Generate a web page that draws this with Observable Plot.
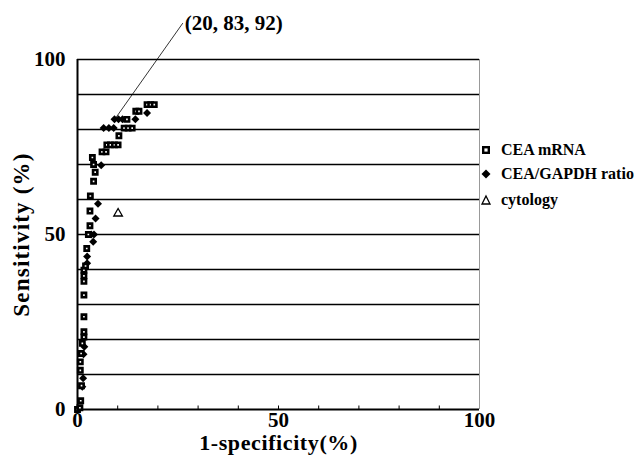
<!DOCTYPE html>
<html><head><meta charset="utf-8">
<script src="https://cdn.jsdelivr.net/npm/d3@7"></script>
<script src="https://cdn.jsdelivr.net/npm/@observablehq/plot@0.6"></script>
<style>
body{margin:0;background:#fff;}
#wrap{position:relative;width:637px;height:455px;}
.lg{position:absolute;left:480px;font:bold 16px "Liberation Serif",serif;white-space:nowrap;display:flex;align-items:center;height:20px;}
.lg svg{margin-right:9px;}
#wrap svg text{font-weight:bold;}
svg g[aria-label="x-axis label"]{font-size:22px;letter-spacing:0.6px;fill:#000;}
svg g[aria-label="y-axis label"]{font-size:23px;letter-spacing:1.2px;fill:#000;}
</style></head><body><div id="wrap"></div>
<script>
// CEA mRNA (squares): 1-specificity (%) and sensitivity (%)
const ceaMrnaX = [0,0.6,0.8,1.0,0.7,0.7,0.9,1.2,1.6,1.6,1.6,1.6,1.6,1.6,1.6,2.0,2.3,2.7,3.1,3.1,3.2,4.0,4.4,4.0,3.7,6.1,7.1,7.3,8.2,9.2,10.1,10.3,11.6,12.6,13.6,12.3,14.5,15.3,17.3,18.2,19.1];
const ceaMrnaY = [0,0.5,2.5,6.8,11.2,13.6,16,18.9,20.7,22.2,26.5,32.7,36.6,38.2,39.8,41,46,50,52.5,56.7,61,65.2,67.8,70,72,73.6,73.6,75.6,75.6,75.6,75.6,78.2,80.4,80.4,80.4,82.9,85.2,85.2,87.1,87.1,87.1];
// CEA/GAPDH ratio (diamonds)
const ratioX = [0.3,1.2,1.4,1.5,1.7,2.4,2.4,3.9,3.4,4.1,4.5,5.1,5.9,6.5,7.8,9.0,9.2,10.2,11.2,14.4,17.3];
const ratioY = [0.3,6.5,8.9,15.8,17.9,41.8,43.7,47.9,50,50,54.6,58.8,69.8,80.4,80.4,80.4,82.9,82.9,82.9,82.9,84.7];
// cytology (triangle)
const cytologyX = [10.1];
const cytologyY = [56];
// annotation
const annotationText = ["(20, 83, 92)"];
const annotationFrom = [26.2, 110.4];
const annotationTo = [9.5, 83.3];
// ticks
const yTicks = [0, 50, 100];
const xTicks = [0, 50, 100];
const gridY = [10,20,30,40,50,60,70,80,90,100];
const minorX = [10,20,30,40,50,60,70,80,90];

const mrna = ceaMrnaX.map((x,i)=>({x, y: ceaMrnaY[i]}));
const ratio = ratioX.map((x,i)=>({x, y: ratioY[i]}));
const cyto = cytologyX.map((x,i)=>({x, y: cytologyY[i]}));

const chart = Plot.plot({
  width: 637, height: 455,
  marginTop: 59, marginBottom: 46, marginLeft: 77, marginRight: 158,
  x: {domain: [0, 100]},
  y: {domain: [0, 100]},
  style: {fontFamily: '"Liberation Serif", serif', fontWeight: "bold", fontSize: "21px", background: "#fff", color: "#000"},
  marks: [
    Plot.ruleY(gridY, {stroke: "#000", strokeWidth: 1.3}),
    Plot.ruleX([100], {stroke: "#999", strokeWidth: 1}),
    Plot.ruleX(minorX, {y1: 0, y2: 1, stroke: "#000", strokeWidth: 1}),
    Plot.ruleY([0], {stroke: "#000", strokeWidth: 2}),
    Plot.ruleX([0], {stroke: "#000", strokeWidth: 2}),
    Plot.axisY({ticks: yTicks, tickSize: 0, tickPadding: 12, label: "Sensitivity (%)", labelArrow: "none", labelAnchor: "center", labelOffset: 65, fontSize: 21}),
    Plot.axisX({ticks: xTicks, tickSize: 0, tickPadding: 3, label: "1-specificity(%)", labelArrow: "none", labelAnchor: "center", labelOffset: 40, fontSize: 21}),
    Plot.link([0], {x1: () => annotationFrom[0], y1: () => annotationFrom[1], x2: () => annotationTo[0], y2: () => annotationTo[1], stroke: "#000", strokeWidth: 0.8}),
    Plot.text(annotationText, {x: () => annotationFrom[0] + 0.5, y: () => annotationFrom[1], text: d => d, textAnchor: "start", fontSize: 21, fontWeight: "bold", clip: false}),
    Plot.dot(ratio, {x: "x", y: "y", symbol: "diamond2", r: 3.6, fill: "#000", stroke: "none"}),
    Plot.dot(mrna, {x: "x", y: "y", symbol: "square", r: 2.4, fill: "#fff", stroke: "#000", strokeWidth: 2.6}),
    Plot.dot(cyto, {x: "x", y: "y", symbol: "triangle", r: 3.2, fill: "#fff", stroke: "#000", strokeWidth: 1.3})
  ]
});
const wrap = document.getElementById("wrap");
wrap.appendChild(chart);

const legendItems = [
  {label: "CEA mRNA", top: 140, svg: '<rect x="3.2" y="3.2" width="5.6" height="5.6" fill="#fff" stroke="#000" stroke-width="2.4"/>'},
  {label: "CEA/GAPDH ratio", top: 164, svg: '<path d="M6 1.5 L10.5 6 L6 10.5 L1.5 6 Z" fill="#000"/>'},
  {label: "cytology", top: 190, svg: '<path d="M6 2 L10 10 L2 10 Z" fill="#fff" stroke="#000" stroke-width="1.3"/>'}
];
for (const it of legendItems) {
  const d = document.createElement("div");
  d.className = "lg";
  d.style.top = it.top + "px";
  d.innerHTML = '<svg width="12" height="12">' + it.svg + '</svg><span>' + it.label + '</span>';
  wrap.appendChild(d);
}
</script></body></html>
